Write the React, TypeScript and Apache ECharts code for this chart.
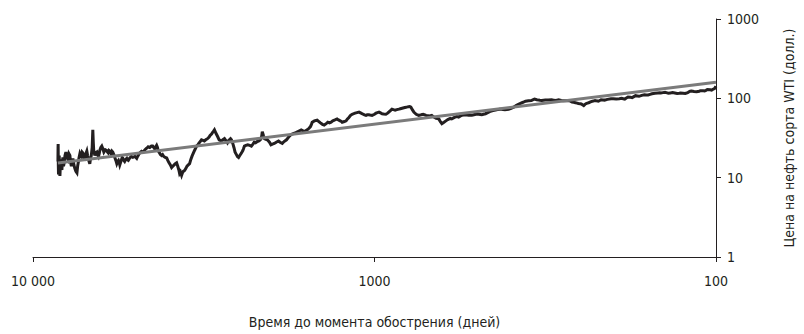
import React, { useEffect, useRef } from "react";
import * as echarts from "echarts";

// Days before the burst (x) and WTI price, USD (y)
const priceDays: number[] = [
  8453, 8445, 8440, 8430, 8420, 8400, 8380, 8360, 8340, 8310, 8285, 8260, 8230, 8200, 8176, 8140, 8100, 8060, 8010, 7950,
  7900, 7850, 7798, 7760, 7720, 7680, 7641, 7590, 7540, 7490, 7437, 7400, 7360, 7330, 7292, 7260, 7220, 7180, 7145, 7100,
  7050, 7000, 6956, 6920, 6880, 6850, 6819, 6790, 6750, 6710, 6681, 6660, 6640, 6610, 6592, 6550, 6503, 6470, 6430, 6400,
  6373, 6330, 6288, 6240, 6200, 6140, 6081, 6050, 6020, 5990, 5959, 5930, 5900, 5870, 5840, 5800, 5760, 5720, 5684, 5650,
  5620, 5590, 5570, 5530, 5500, 5480, 5459, 5420, 5390, 5350, 5314, 5290, 5260, 5230, 5208, 5150, 5100, 5030, 4969, 4940,
  4920, 4890, 4870, 4810, 4760, 4700, 4646, 4600, 4550, 4500, 4463, 4430, 4400, 4370, 4345, 4320, 4300, 4280, 4258, 4230,
  4200, 4173, 4140, 4100, 4060, 4030, 4000, 3960, 3927, 3890, 3860, 3830, 3797, 3770, 3740, 3722, 3700, 3672, 3650, 3630,
  3598, 3570, 3540, 3510, 3479, 3450, 3420, 3390, 3365, 3340, 3320, 3290, 3270, 3240, 3211, 3180, 3150, 3120, 3083, 3050,
  3030, 3000, 2982, 2960, 2942, 2910, 2880, 2850, 2830, 2807, 2780, 2750, 2720, 2696, 2680, 2660, 2640, 2624, 2600, 2580,
  2560, 2537, 2520, 2500, 2480, 2453, 2430, 2420, 2404, 2380, 2350, 2320, 2294, 2270, 2250, 2230, 2203, 2180, 2160, 2140,
  2131, 2115, 2100, 2080, 2060, 2030, 2010, 1990, 1965, 1940, 1910, 1890, 1862, 1840, 1810, 1780, 1753, 1730, 1700, 1670,
  1639, 1620, 1600, 1590, 1574, 1555, 1540, 1530, 1522, 1500, 1472, 1455, 1440, 1420, 1404, 1385, 1370, 1355, 1340, 1325,
  1310, 1300, 1287, 1275, 1260, 1250, 1244, 1225, 1211, 1200, 1190, 1175, 1163, 1150, 1140, 1125, 1110, 1095, 1080, 1070,
  1059, 1050, 1040, 1030, 1017, 1000, 990, 980, 970, 960, 950, 940, 926, 915, 905, 895, 889, 880, 870, 860,
  848, 840, 830, 820, 809, 800, 790, 785, 782, 775, 767, 755, 742, 730, 720, 712, 707, 698, 690, 685,
  680, 670, 660, 654, 648, 642, 635, 626, 618, 610, 600, 597, 594, 585, 575, 570, 567, 560, 555, 548,
  540, 535, 530, 525, 519, 512, 505, 500, 495, 490, 485, 480, 473, 466, 460, 450, 442, 436, 430, 427,
  424, 420, 415, 410, 405, 398, 390, 385, 379, 375, 370, 365, 361, 354, 347, 344, 340, 335, 331, 328,
  324, 320, 316, 310, 303, 299, 295, 292, 289, 286, 284, 280, 277, 274, 270, 267, 264, 261, 258, 255,
  253, 250, 248, 246, 244, 242, 240, 238, 236, 233, 230, 228, 226, 224, 221, 219, 217, 214, 212, 208,
  203, 200, 196, 192, 189, 187, 185, 183, 181, 178, 176, 174, 172, 170, 168, 165, 162, 160, 158, 156,
  154, 151, 148, 146, 145, 143, 141, 139, 138, 136, 134, 132, 130, 128, 127, 125, 123, 121, 120, 119,
  118, 116, 114, 112, 111, 109, 108, 107, 106, 104, 103, 102, 101, 100.5, 100,
];
const priceValues: number[] = [
  16, 24, 26.5, 14, 11, 17, 19, 12, 10.5, 15, 17, 13.5, 12.5, 16, 18, 14, 15.5, 19, 21, 18,
  17, 20, 19, 15.5, 14, 16, 17.5, 14.5, 13, 12, 11.5, 14, 16, 18, 20, 19, 18.5, 21, 20.5, 18,
  17.5, 20, 21.6, 19, 17, 16, 15, 17, 19, 24, 40, 28, 22, 20.5, 19, 20.5, 21, 19.5, 18.5, 20,
  22, 24, 25, 23, 21, 22.5, 22, 21, 20.5, 22, 21.6, 21, 20, 21.5, 21, 19.5, 18, 16.5, 15, 16,
  16.5, 15.5, 14.5, 16, 17, 18, 17.7, 16.5, 16, 17, 17.5, 16.8, 16.5, 17.2, 17.7, 18.5, 18, 18.5, 17.5, 18.5,
  19, 20, 20.4, 21.5, 21, 22.5, 23.5, 24.5, 24, 25, 25, 24, 23, 24.5, 25.5, 24, 22, 21, 20.4, 19.5,
  19, 19.5, 18.5, 18, 17.7, 16.5, 15.5, 14.5, 13.4, 14, 14.5, 15, 15.4, 14, 12.5, 11.3, 11.8, 10.7, 11.5, 12,
  12.3, 13, 14, 14.5, 15, 17, 18.8, 20.5, 22, 23.5, 25, 26, 27, 28.5, 30, 29.5, 29, 30, 31, 32.5,
  34, 35.5, 37, 38.5, 40, 36, 33, 30, 29.5, 29, 30, 31, 29, 27.5, 29, 30, 31, 30, 27, 24,
  21, 19.5, 18.5, 18, 19, 20.4, 22, 23, 25, 25.5, 26, 25.5, 25, 26.5, 28, 27.5, 28.6, 29, 30, 33,
  38, 34, 31, 30.5, 30, 28, 26, 26.5, 27, 28, 29, 28, 27, 28.5, 30, 33, 35, 36, 37, 38.5,
  40, 39, 38, 39, 40, 42, 44, 47, 50, 52, 53, 51, 49, 47, 46, 48, 50, 49, 50, 52,
  53, 54, 55, 53.5, 52, 51, 50, 51, 52, 55, 57, 61, 63, 64, 65, 66, 67, 65, 63, 62,
  61, 62, 62, 61.5, 61, 63, 65, 66, 67, 65.5, 64, 63.5, 63, 65, 68, 71, 73, 72, 71, 72,
  73, 74, 75, 76, 77, 78, 79, 78, 77, 72, 67, 63, 61, 62, 63, 62, 61, 60.5, 60, 60.5,
  61, 58, 56, 55.5, 55, 51, 48, 50, 52, 54, 56, 55.5, 55, 57, 59, 58.5, 58, 60, 61, 61.5,
  62, 61.5, 61, 61, 61, 62, 63, 63.5, 63, 62.5, 62, 63, 64, 66, 68, 70, 71, 72, 73, 73,
  73, 72.5, 72, 72.5, 73, 75, 78, 81, 84, 86, 88, 90, 92, 93, 94, 96, 98, 96, 95, 94.5,
  94, 94.5, 95, 95.5, 96, 95, 94, 95, 96, 95, 94, 93.5, 93, 93.5, 94, 92, 90, 89, 88, 87,
  86, 85.5, 85, 83, 81, 84, 86, 87, 88, 90, 92, 93, 94, 93, 92, 94, 96, 95.5, 95, 97,
  99, 98.5, 98, 99, 100, 99, 98, 101, 104, 103, 102, 105, 108, 107, 106, 109, 111, 110.5, 110, 112,
  114, 116, 117, 117.5, 117, 118, 119, 117, 116, 117, 118, 116.5, 115, 116, 117, 116, 115, 118, 121, 123,
  124, 122, 121, 123, 125, 124.5, 124, 126, 129, 128, 127, 130, 133, 137, 142,
];
// Trend line (straight on log-log axes)
const trendDays: number[] = [8453, 100];
const trendValues: number[] = [15.3, 160];

const xTickValues: number[] = [10000, 1000, 100];
const yTickLabels: string[] = ["1", "10", "100", "1000"];

const xAxisTitle = "Время до момента обострения (дней)";
const yAxisTitle = "Цена на нефть сорта WTI (долл.)";

const FONT = "'Liberation Sans Narrow', 'DejaVu Sans Condensed', 'Arial Narrow', 'Liberation Sans', sans-serif";
const INK = "#231f20";

export default function App() {
  const ref = useRef<HTMLDivElement>(null);
  useEffect(() => {
    if (!ref.current) return;
    const chart = echarts.init(ref.current, undefined, { renderer: "svg" });
    const fmtX = (v: number) => {
      const r = Math.round(v);
      if (!xTickValues.includes(r)) return "";
      return r >= 10000 ? String(r).replace(/\B(?=(\d{3})+(?!\d))/g, " ") : String(r);
    };
    const fmtY = (v: number) => {
      const s = String(Math.round(v));
      return yTickLabels.includes(s) ? s : "";
    };
    chart.setOption({
      animation: false,
      backgroundColor: "#ffffff",
      grid: { left: 33, right: 86, top: 19, bottom: 70, containLabel: false },
      xAxis: {
        type: "log",
        logBase: 10,
        min: 100,
        max: 10000,
        inverse: true,
        name: xAxisTitle,
        nameLocation: "middle",
        nameGap: 58,
        nameTextStyle: { fontFamily: FONT, fontSize: 14, color: INK },
        axisLine: { show: true, lineStyle: { color: INK, width: 1 } },
        axisTick: { show: true, length: 5, inside: false, lineStyle: { color: INK } },
        minorTick: { show: false },
        splitLine: { show: false },
        axisLabel: {
          show: true,
          margin: 17,
          fontFamily: FONT,
          fontSize: 14,
          color: INK,
          showMinLabel: true,
          showMaxLabel: true,
          formatter: fmtX,
        },
      },
      yAxis: {
        type: "log",
        logBase: 10,
        min: 1,
        max: 1000,
        position: "right",
        name: yAxisTitle,
        nameLocation: "middle",
        nameGap: 66,
        nameRotate: 90,
        nameTextStyle: { fontFamily: FONT, fontSize: 14, color: INK },
        axisLine: { show: true, lineStyle: { color: INK, width: 1 } },
        axisTick: { show: true, length: 5, inside: false, lineStyle: { color: INK } },
        minorTick: { show: false },
        splitLine: { show: false },
        axisLabel: {
          show: true,
          margin: 11,
          fontFamily: FONT,
          fontSize: 14,
          color: INK,
          showMinLabel: true,
          showMaxLabel: true,
          formatter: fmtY,
        },
      },
      series: [
        {
          type: "line",
          name: "WTI",
          data: priceDays.map((d, i) => [d, priceValues[i]]),
          showSymbol: false,
          symbol: "none",
          lineStyle: { color: INK, width: 3, join: "miter" },
          z: 2,
        },
        {
          type: "line",
          name: "trend",
          data: trendDays.map((d, i) => [d, trendValues[i]]),
          showSymbol: false,
          symbol: "none",
          lineStyle: { color: "#7b7b7b", width: 3 },
          z: 3,
        },
      ],
    });
    return () => chart.dispose();
  }, []);
  return (
    <div
      ref={ref}
      style={{ position: "fixed", left: 0, top: 0, width: 804, height: 334, background: "#fff" }}
    />
  );
}
